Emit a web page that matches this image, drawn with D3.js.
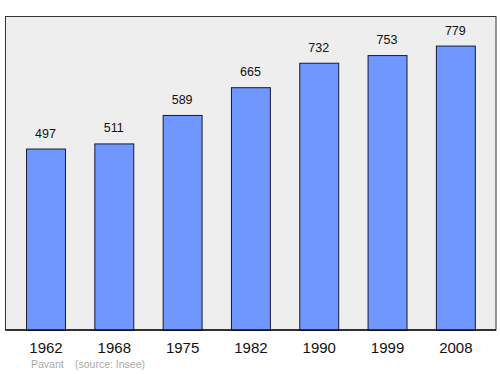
<!DOCTYPE html>
<html>
<head>
<meta charset="utf-8">
<script src="https://cdn.jsdelivr.net/npm/d3@7"></script>
<style>
  body { margin: 0; background: #fff; }
  text { font-family: "Liberation Sans", Arial, sans-serif; }
</style>
</head>
<body>
<script>
var years = ['1962', '1968', '1975', '1982', '1990', '1999', '2008'];
var population = [497, 511, 589, 665, 732, 753, 779];
var footerName = 'Pavant';
var footerSource = '(source: Insee)';

var width = 500, height = 374;
var frame = { left: 5.5, top: 16.5, right: 496, bottom: 330 };

var svg = d3.select('body').append('svg')
  .attr('width', width)
  .attr('height', height);

svg.append('rect')
  .attr('x', frame.left)
  .attr('y', frame.top)
  .attr('width', frame.right - frame.left)
  .attr('height', frame.bottom - frame.top)
  .attr('fill', '#eeeeee')
  .attr('stroke', '#333')
  .attr('stroke-width', 1);

var x = d3.scaleBand()
  .domain(years)
  .range([11.35, 489.5])
  .paddingInner(0.43)
  .paddingOuter(0.215);

var y = d3.scaleLinear()
  .domain([0, 860])
  .range([frame.bottom, frame.bottom - 314]);

var data = years.map(function (yr, i) {
  return { year: yr, value: population[i] };
});

svg.append('g').selectAll('rect')
  .data(data)
  .enter().append('rect')
  .attr('x', function (d) { return x(d.year) + 0.5; })
  .attr('y', function (d) { return y(d.value) + 0.5; })
  .attr('width', x.bandwidth())
  .attr('height', function (d) { return frame.bottom - y(d.value); })
  .attr('fill', '#7097ff')
  .attr('stroke', '#1a1a2e')
  .attr('stroke-width', 1);

svg.append('g').selectAll('text')
  .data(data)
  .enter().append('text')
  .attr('x', function (d) { return x(d.year) + x.bandwidth() / 2; })
  .attr('y', function (d) { return y(d.value) - 11; })
  .attr('text-anchor', 'middle')
  .attr('font-size', 12.5)
  .attr('fill', '#111')
  .text(function (d) { return d.value; });

// bottom axis line, a bit heavier than the frame
svg.append('line')
  .attr('x1', frame.left)
  .attr('x2', frame.right)
  .attr('y1', frame.bottom)
  .attr('y2', frame.bottom)
  .attr('stroke', '#111')
  .attr('stroke-width', 1.5);

var xAxis = d3.axisBottom(x).tickSize(0).tickPadding(12);
var axisG = svg.append('g')
  .attr('transform', 'translate(0.5,' + frame.bottom + ')')
  .call(xAxis);
axisG.select('.domain').remove();
axisG.selectAll('text')
  .attr('font-size', 15)
  .attr('fill', '#111')
  .style('font-family', '"Liberation Sans", Arial, sans-serif');

svg.append('text')
  .attr('x', 31)
  .attr('y', 368)
  .attr('font-size', 10.5)
  .attr('fill', '#aaaaaa')
  .text(footerName);

svg.append('text')
  .attr('x', 75)
  .attr('y', 368)
  .attr('font-size', 10.5)
  .attr('fill', '#aaaaaa')
  .text(footerSource);
</script>
</body>
</html>
